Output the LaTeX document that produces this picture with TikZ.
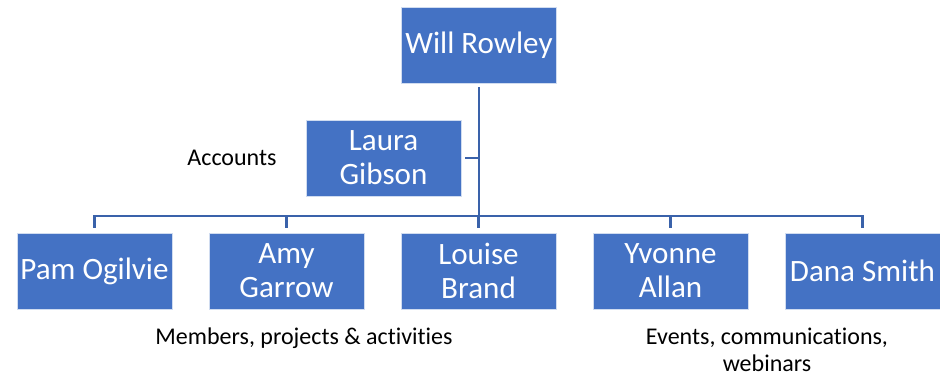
\documentclass[tikz,border=0pt]{standalone}
\usepackage{fontspec}
\setmainfont{Carlito}[Ligatures=NoCommon]
\usetikzlibrary{positioning}
\definecolor{boxblue}{HTML}{4472C4}
\definecolor{linkblue}{HTML}{3A62AA}

\begin{document}
\begin{tikzpicture}[x=0.75pt,y=-0.75pt,node distance=144pt,
    person/.style={fill=boxblue,draw=white!75!boxblue,line width=0.4pt,text=white,
      minimum width=116pt,minimum height=57pt,inner sep=0pt,align=center,
      font=\fontsize{23.3}{25.5}\selectfont},
    note/.style={align=center,font=\fontsize{18}{20.5}\selectfont},
    link/.style={draw=linkblue,line width=2.2pt}]
    \useasboundingbox (0,0) rectangle (940,378);
    \node[person](will) at (479,45) {Will Rowley};
    \node[person](laura) at (383.5,158) {Laura\\Gibson};
    \node[person](pam) at (94.5,271) {Pam Ogilvie};
    \node[person](amy)[right of=pam] {Amy\\Garrow};
    \node[person](louise)[right of=amy] {Louise\\Brand};
    \node[person](yvonne)[right of=louise] {Yvonne\\Allan};
    \node[person](dana)[right of=yvonne] {Dana Smith};
    \node[note](accounts) at (232,158) {Accounts};
    \node[note](members) at (304,338) {Members, projects \& activities};
    \node[note](events) at (767,350) {Events, communications,\\webinars};
    \coordinate(hub) at (479,216);
    \draw[link,shorten <=3pt] (will) -- (hub);
    \draw[link,shorten <=3pt] (laura) -- (laura -| will);
    \draw[link,line cap=rect] (pam |- hub) -- (dana |- hub);
    \foreach \n in {pam,amy,louise,yvonne,dana}
      \draw[link,shorten >=3.5pt] (\n |- hub) -- (\n);
\end{tikzpicture}
\end{document}
